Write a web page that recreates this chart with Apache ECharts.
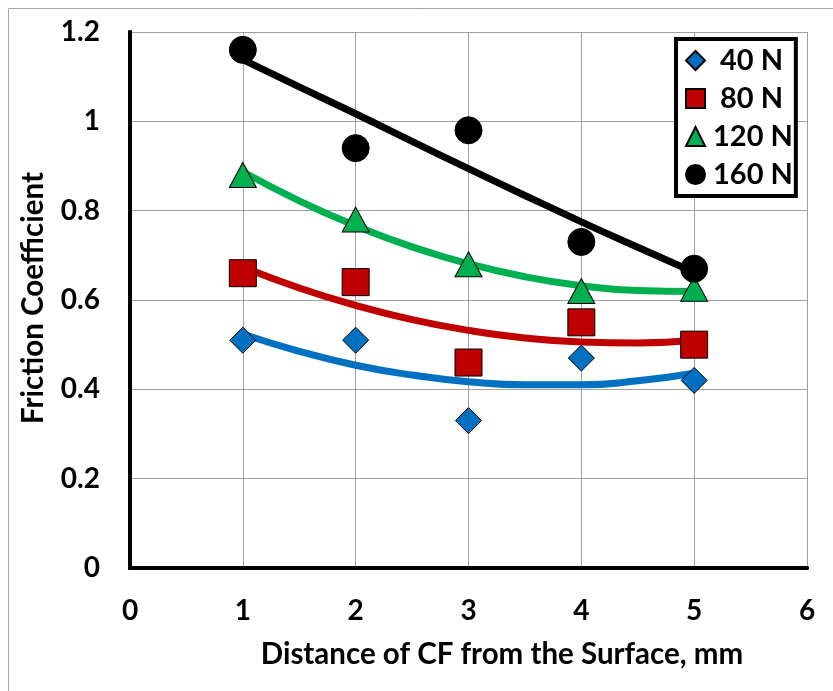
<!DOCTYPE html>
<html>
<head>
<meta charset="utf-8">
<script src="https://cdn.jsdelivr.net/npm/echarts@6/dist/echarts.min.js"></script>
<style>html,body{margin:0;padding:0;background:#fff}#c{width:833px;height:691px}</style>
</head>
<body>
<div id="c"></div>
<script>
const xValues = [1, 2, 3, 4, 5];
const y40 = [0.51, 0.51, 0.33, 0.47, 0.42];
const y80 = [0.66, 0.64, 0.46, 0.55, 0.50];
const y120 = [0.88, 0.78, 0.68, 0.62, 0.625];
const y160 = [1.16, 0.94, 0.98, 0.73, 0.67];
// trend lines
const trendX = [1, 1.5, 2, 2.5, 3, 3.5, 4, 4.5, 5];
const trend40 = [0.524, 0.485, 0.454, 0.432, 0.417, 0.410, 0.410, 0.419, 0.436];
const trend80 = [0.674, 0.627, 0.588, 0.556, 0.532, 0.515, 0.506, 0.504, 0.510];
const trend120 = [0.887, 0.822, 0.766, 0.719, 0.681, 0.652, 0.632, 0.621, 0.619];
const trend160 = [1.138, 1.077, 1.017, 0.955, 0.894, 0.834, 0.775, 0.718, 0.662];
const seriesNames = ['40 N', '80 N', '120 N', '160 N'];
const xTicks = [0, 1, 2, 3, 4, 5, 6];
const yTicks = [0, 0.2, 0.4, 0.6, 0.8, 1, 1.2];
const xTitle = 'Distance of CF from the Surface, mm';
const yTitle = 'Friction Coefficient';

const colors = ['#0070C0', '#C00000', '#00B050', '#000000'];
const symbols = ['diamond', 'rect', 'triangle', 'circle'];
const sizes = [26, 27, [27, 25], 27];
const FONT = 'Lato';

const pts = [y40, y80, y120, y160];
const trends = [trend40, trend80, trend120, trend160];

const series = [];
trends.forEach((t, i) => {
  series.push({
    name: 'trend ' + seriesNames[i],
    type: 'line',
    data: trendX.map((x, k) => [x, t[k]]),
    smooth: true,
    showSymbol: false,
    symbol: 'none',
    lineStyle: { color: colors[i], width: 7 },
    z: 2,
    silent: true
  });
});
pts.forEach((p, i) => {
  series.push({
    name: seriesNames[i],
    type: 'scatter',
    data: xValues.map((x, k) => [x, p[k]]),
    symbol: symbols[i],
    symbolSize: sizes[i],
    itemStyle: { color: colors[i], borderColor: '#000', borderWidth: 1, opacity: 1 },
    z: 3 + i
  });
});

const frameAxis = { show: true, lineStyle: { color: '#000', width: 4 } };
const xMin = xTicks[0], xMax = xTicks[xTicks.length - 1];
const yMin = yTicks[0], yMax = yTicks[yTicks.length - 1];

const chart = echarts.init(document.getElementById('c'), null, { renderer: 'canvas' });
chart.setOption({
  animation: false,
  backgroundColor: '#fff',
  grid: { left: 130, right: 26, top: 32, bottom: 123 },
  xAxis: [{
    type: 'value', min: xMin, max: xMax, interval: 1,
    axisLine: frameAxis,
    axisTick: { show: false },
    splitLine: { show: true, lineStyle: { color: '#A0A0A0', width: 1 } },
    axisLabel: { margin: 29, color: '#000', fontFamily: FONT, fontWeight: 'bold', fontSize: 28,
      formatter: v => String(xTicks.find(t => Math.abs(t - v) < 1e-9) ?? v) }
  }, {
    type: 'value', position: 'top', min: xMin, max: xMax, interval: 1,
    axisLine: frameAxis, axisTick: { show: false }, axisLabel: { show: false }, splitLine: { show: false }
  }],
  yAxis: [{
    type: 'value', min: yMin, max: yMax, interval: 0.2,
    axisLine: frameAxis,
    axisTick: { show: false },
    splitLine: { show: true, lineStyle: { color: '#A0A0A0', width: 1 } },
    axisLabel: { margin: 30, color: '#000', fontFamily: FONT, fontWeight: 'bold', fontSize: 28,
      formatter: v => { const t = yTicks.find(t => Math.abs(t - v) < 1e-9); return String(t !== undefined ? t : +v.toFixed(1)); } }
  }, {
    type: 'value', position: 'right', min: yMin, max: yMax, interval: 0.2,
    axisLine: frameAxis, axisTick: { show: false }, axisLabel: { show: false }, splitLine: { show: false }
  }],
  legend: {
    data: seriesNames,
    orient: 'vertical',
    left: 676, top: 39,
    padding: [7, 3, 7, 9],
    itemWidth: 19, itemHeight: 19,
    itemGap: 9,
    backgroundColor: '#fff',
    borderColor: '#000', borderWidth: 4,
    formatter: name => (name.length < 5 ? '{s|' + name + '}' : '{l|' + name + '}'),
    textStyle: {
      color: '#000', fontFamily: FONT, fontWeight: 'bold', fontSize: 29, lineHeight: 19,
      rich: {
        s: { fontFamily: FONT, fontWeight: 'bold', fontSize: 29, padding: [0, 0, 0, 10], lineHeight: 19 },
        l: { fontFamily: FONT, fontWeight: 'bold', fontSize: 29, padding: [0, 0, 0, 3], lineHeight: 19 }
      }
    }
  },
  graphic: [
    { type: 'rect', shape: { x: 8.5, y: 8.5, width: 1000, height: 1000 }, style: { fill: 'none', stroke: '#A6A6A6', lineWidth: 1 }, silent: true, z: -10 },
    { type: 'text', x: 502, y: 654, style: { text: xTitle, fill: '#000', font: 'bold 29.5px ' + FONT, textAlign: 'center', textVerticalAlign: 'middle' } },
    { type: 'text', x: 33, y: 298, rotation: Math.PI / 2, style: { text: yTitle, fill: '#000', font: 'bold 29.5px ' + FONT, textAlign: 'center', textVerticalAlign: 'middle' } }
  ],
  series: series
});
</script>
</body>
</html>
